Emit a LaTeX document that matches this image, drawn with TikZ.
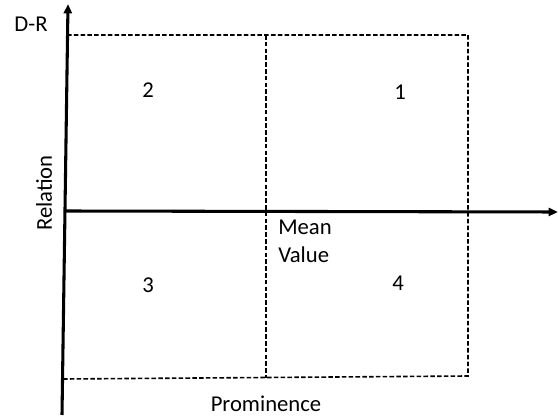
\documentclass[tikz,border=0pt]{standalone}
\usepackage{fontspec}
\setmainfont{Carlito}
\usetikzlibrary{arrows.meta}
\begin{document}
\begin{tikzpicture}[x=0.75pt,y=-0.75pt,
  axis/.style={line width=2.3pt,-{Triangle[length=7pt,width=6pt]}},
  grid/.style={line width=1.2pt,dash pattern=on 3.4pt off 1.7pt},
  lbl/.style={font=\fontsize{17}{20.5}\selectfont,inner sep=0pt}]
\useasboundingbox (0,0) rectangle (558,417);
% quadrant frame
\coordinate (tl) at (67,35);
\coordinate (tm) at (266,35);
\coordinate (tr) at (468,35);
\coordinate (bl) at (64,379);
\coordinate (bm) at (266,378);
\coordinate (br) at (468,376);
\draw[grid] (tl) -- (tr) -- (br) -- (bl);
\draw[grid] (tm) -- (bm);
% axes
\coordinate (yb) at (62,415);
\coordinate (yt) at (68,4);
\coordinate (xl) at (64,211);
\coordinate (xr) at (558,212);
\draw[axis] (yb) -- (yt);
\draw[axis] (xl) -- (xr);
% labels
\node[lbl] (dr) at (31,24) {D-R};
\node[lbl,rotate=90] (rel) at (44,193) {Relation};
\node[lbl] (prom) at (266,404) {Prominence};
\node[lbl,align=left,anchor=north west] (mean) at (278,220) {Mean\\Value};
\node[lbl] (q1) at (400,92) {1};
\node[lbl] (q2) at (148,90) {2};
\node[lbl] (q3) at (148,285) {3};
\node[lbl] (q4) at (398,283) {4};
\end{tikzpicture}
\end{document}
